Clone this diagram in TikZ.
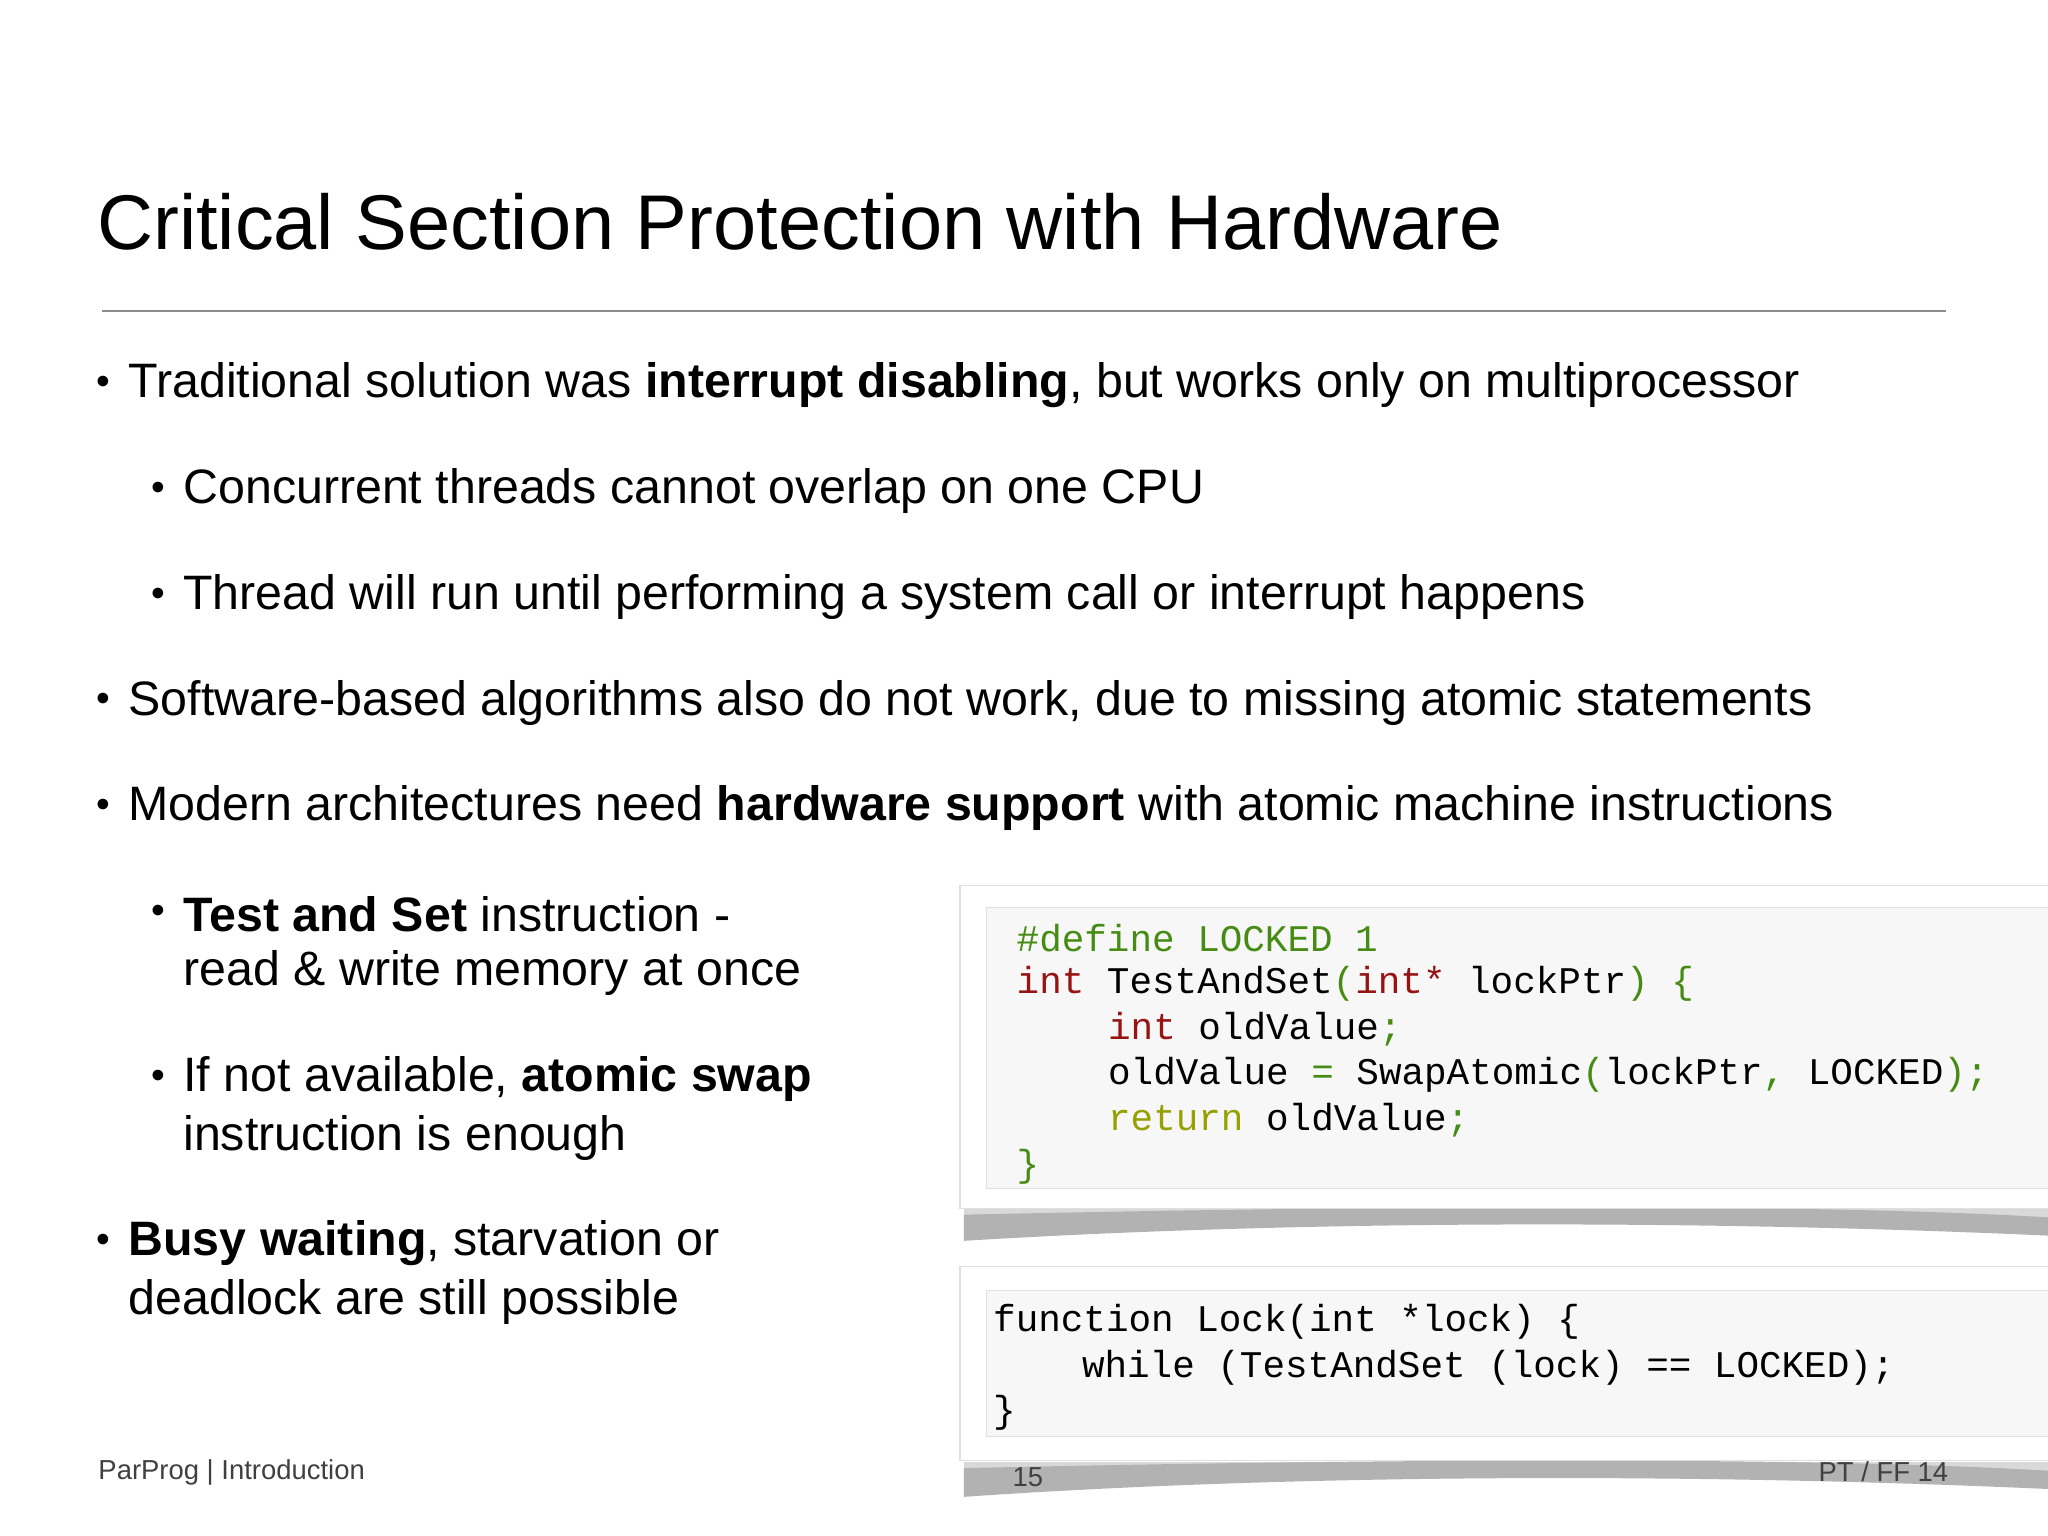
\documentclass[tikz,border=0pt]{standalone}
\usepackage{fontspec}
\setmainfont{Liberation Sans}
\setmonofont{Liberation Mono}
\usetikzlibrary{calc}
\definecolor{kwgreen}{RGB}{70,140,20}
\definecolor{kwred}{RGB}{150,20,20}
\definecolor{kwyel}{RGB}{150,160,0}
\tikzset{
 txt/.style={anchor=west,inner sep=0pt,font=\fontsize{18.5}{22}\selectfont},
 bul/.style={anchor=center,inner sep=0pt,font=\fontsize{15}{20}\selectfont},
 code/.style={anchor=west,inner sep=0pt,font=\ttfamily\fontsize{14.4}{17}\selectfont},
 foot/.style={inner sep=0pt,font=\fontsize{10.5}{12}\selectfont,text=black!75},
 outerbox/.style={fill=white,draw=black!12},
 innerbox/.style={fill=black!3,draw=black!12},
 shad/.style={fill=black!30}
}
\begin{document}
\begin{tikzpicture}[x=0.5pt,y=-0.5pt]
\useasboundingbox[fill=white] (0,0) rectangle (1568,1176);
\node[anchor=west,inner sep=0pt,font=\fontsize{29.7}{36}\selectfont] (title) at (74,170) {Critical Section Protection with Hardware};
\draw[black!45,line width=0.6pt] (78,238) -- (1490,238);
% bullets
\node[bul] (b1) at (79,295) {•};
\node[txt] (t1) at (98,295) {Traditional solution was \textbf{interrupt disabling}, but works only on multiprocessor};
\node[bul] (b2) at (121,376) {•};
\node[txt] (t2) at (140,376) {Concurrent threads cannot overlap on one CPU};
\node[bul] (b3) at (121,457) {•};
\node[txt] (t3) at (140,457) {Thread will run until performing a system call or interrupt happens};
\node[bul] (b4) at (79,538) {•};
\node[txt] (t4) at (98,538) {Software-based algorithms also do not work, due to missing atomic statements};
\node[bul] (b5) at (79,619) {•};
\node[txt] (t5) at (98,619) {Modern architectures need \textbf{hardware support} with atomic machine instructions};
\node[bul] (b6) at (121,700) {•};
\node[txt] (t6) at (140,700) {\textbf{Test and Set} instruction -};
\node[txt] (t6b) at (140,745) {read \& write memory at once};
\node[bul] (b7) at (121,826) {•};
\node[txt] (t7) at (140,826) {If not available, \textbf{atomic swap}};
\node[txt] (t7b) at (140,871) {instruction is enough};
\node[bul] (b8) at (79,952) {•};
\node[txt] (t8) at (98,952) {\textbf{Busy waiting}, starvation or};
\node[txt] (t8b) at (98,997) {deadlock are still possible};
% code box 1
\fill[black!15] (738,926) rectangle (1568,934);
\fill[shad] (738,930) .. controls (1100,922) and (1400,922) .. (1568,932) -- (1568,946) .. controls (1300,934) and (1000,934) .. (738,950) -- cycle;
\draw[outerbox] (735,678) rectangle (1575,925);
\draw[innerbox] (755,695) rectangle (1575,910);
\node[code] (c1) at (778,718) {\color{kwgreen}\#define LOCKED 1};
\node[code] (c2) at (778,753) {\color{kwred}int \color{black}TestAndSet\color{kwgreen}(\color{kwred}int* \color{black}lockPtr\color{kwgreen}) \{};
\node[code] (c3) at (848,788) {\color{kwred}int \color{black}oldValue\color{kwgreen};};
\node[code] (c4) at (848,823) {oldValue \color{kwgreen}= \color{black}SwapAtomic\color{kwgreen}(\color{black}lockPtr\color{kwgreen}, \color{black}LOCKED\color{kwgreen});};
\node[code] (c5) at (848,858) {\color{kwyel}return \color{black}oldValue\color{kwgreen};};
\node[code] (c6) at (778,893) {\color{kwgreen}\}};
% code box 2
\fill[black!15] (738,1119) rectangle (1568,1127);
\fill[shad] (738,1124) .. controls (1100,1116) and (1400,1116) .. (1568,1126) -- (1568,1140) .. controls (1300,1128) and (1000,1128) .. (738,1146) -- cycle;
\draw[outerbox] (735,970) rectangle (1575,1118);
\draw[innerbox] (755,988) rectangle (1575,1100);
\node[code] (d1) at (760,1012) {function Lock(int *lock) \{};
\node[code] (d2) at (828,1047) {while (TestAndSet (lock) == LOCKED);};
\node[code] (d3) at (760,1082) {\}};
% footer
\node[foot,anchor=west] (f1) at (75,1127) {ParProg | Introduction};
\node[foot] (f2) at (787,1131) {15};
\node[foot,anchor=east] (f3) at (1492,1127) {PT / FF 14};
\end{tikzpicture}
\end{document}
